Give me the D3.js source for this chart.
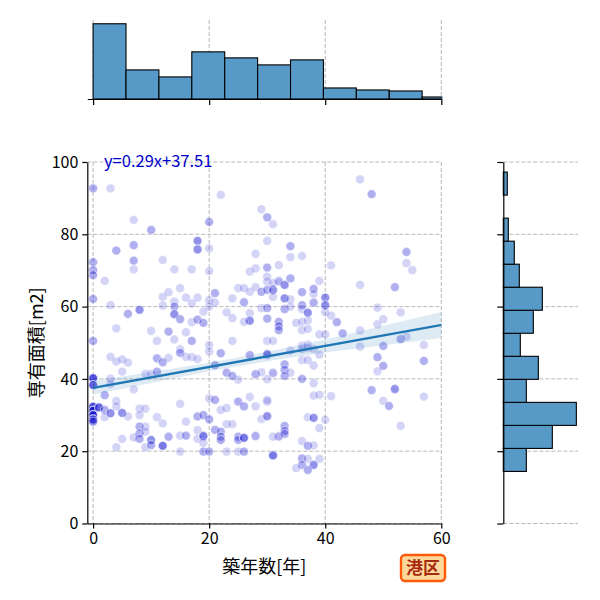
<!DOCTYPE html>
<html>
<head>
<meta charset="utf-8">
<script src="https://d3js.org/d3.v7.min.js"></script>
<style>
  body { margin: 0; background: #fff; }
  svg text { font-family: "Noto Sans CJK JP", "Noto Sans", sans-serif; }
</style>
</head>
<body>
<svg id="chart" width="600" height="600"></svg>
<script>
// scatter points: building age [years], floor area [m2], how many times the point repeats
const ages = [0,3,22,29,30,31,7,10,20,18,18,20,7,30,0,0,0,4,7,7,12,14,17,20,28,27,28,30,32,30,30,0,2,3,6,8,4,0,
  12,13,12,15,14,14,14,15,16,17,18,19,20,20,21,21,23,24,24,25,26,26,27,27,27,26,28,29,29,30,31,31,30,30,32,32,32,32,
  17,18,19,10,13,11,14,17,20,16,24,30,31,15,
  46,48,34,34,36,41,54,54,55,46,52,34,33,31,32,33,33,34,34,36,36,36,38,38,38,37,39,40,40,40,41,42,43,35,36,37,36,37,
  39,40,46,49,50,49,53,53,54,57,50,46,36,37,
  3,4,5,6,5,9,10,11,12,13,11,15,16,17,18,20,22,21,23,24,25,27,28,30,31,29,0,0,0,0,0,0,0,1,2,2,2,3,4,4,5,6,3,3,7,8,9,8,
  8,8,8,9,9,9,10,10,7,5,4,11,12,12,13,15,16,15,16,15,18,19,18,18,19,19,19,20,20,20,21,22,23,21,22,22,22,23,24,23,25,
  25,26,25,25,26,26,27,28,28,29,30,30,31,32,
  30,34,36,37,38,39,36,37,38,33,33,33,34,31,30,36,38,38,39,41,30,30,37,38,40,39,33,33,33,32,31,36,37,38,31,36,36,37,
  38,37,35,39,49,50,49,48,52,50,51,57,57,53];
const areas = [92.7,92.7,90.9,86.9,84.7,82.8,84.0,81.2,83.4,78.2,75.8,76.1,77.0,78.2,72.3,70.1,68.7,75.5,72.7,70.3,72.9,
  70.3,70.3,69.8,74.6,69.7,70.6,70.8,71.5,68.3,66.9,62.1,67.1,60.4,58.0,59.1,54.0,50.5,
  62.7,64.0,60.3,65.1,61.4,60.0,57.9,56.5,62.5,60.9,62.5,58.6,61.8,60.0,63.7,61.1,58.4,62.3,56.8,65.1,65.1,61.2,64.1,
  58.2,56.1,55.8,65.4,64.1,59.6,64.6,64.6,62.7,59.6,56.7,67.2,55.8,54.6,53.5,
  55.7,56.4,55.5,53.3,53.1,50.5,50.9,50.5,49.4,52.9,50.5,50.5,50.5,48.2,
  95.2,91.1,76.7,73.7,74.0,71.4,75.1,72.0,70.1,66.0,65.4,67.8,66.0,66.5,66.9,62.3,59.3,62.0,60.0,64.0,60.4,59.3,64.9,
  63.5,61.1,58.3,67.1,62.5,60.4,58.5,57.5,55.7,52.6,55.5,55.8,56.2,53.5,53.8,
  52.3,52.3,53.4,59.7,56.5,55.1,58.4,51.0,51.7,49.4,49.1,48.9,48.2,48.5,
  46.1,44.8,45.4,44.5,42.0,41.4,41.4,45.7,44.6,45.8,42.0,47.2,46.1,46.0,45.5,47.6,47.1,43.8,41.7,40.8,39.8,46.6,41.3,
  46.6,41.8,41.8,40.2,38.3,32.3,31.2,30.0,28.8,28.2,32.1,35.5,31.4,29.4,30.5,33.9,32.4,30.6,29.6,40.1,38.6,37.1,31.8,
  31.8,30.0,26.8,24.9,23.4,26.8,25.4,21.1,23.1,21.7,23.8,23.4,21.1,29.4,27.7,21.5,24.0,33.1,28.2,24.3,24.3,19.9,29.6,
  30.0,25.8,23.5,24.2,22.3,19.9,19.9,28.8,34.6,34.2,31.4,31.9,25.9,25.4,24.0,23.1,27.5,27.5,19.9,19.9,33.7,32.4,24.0,
  23.1,23.7,19.9,35.0,32.4,24.2,28.9,33.7,29.6,18.7,24.2,
  46.9,47.8,49.2,49.5,48.3,46.7,45.2,45.2,43.7,44.0,42.5,40.8,41.7,41.5,39.9,40.0,38.8,35.4,35.6,35.2,34.1,29.7,29.4,
  29.2,28.7,26.4,27.0,25.6,24.8,24.0,24.0,22.8,21.5,21.6,18.9,18.0,16.2,17.9,16.2,14.8,15.3,17.9,
  46.0,43.6,42.1,36.9,37.2,33.9,32.5,45.0,35.1,27.0];
const repeats = [2,1,1,1,2,1,1,2,2,3,3,1,2,1,2,2,2,2,2,1,1,1,1,1,1,1,1,2,1,1,1,2,1,1,2,3,1,2,
  1,1,1,1,1,2,3,2,1,1,1,1,1,1,2,1,1,1,1,1,1,2,1,1,3,1,1,2,1,2,3,1,2,2,1,2,2,2,
  1,2,2,1,2,1,1,2,1,1,1,1,1,1,
  1,2,2,1,1,1,2,1,1,1,2,2,3,1,1,3,2,1,1,2,2,1,2,1,2,3,1,3,3,1,1,2,2,1,1,1,1,1,
  1,1,1,1,1,1,1,2,1,1,2,1,1,1,
  1,1,1,1,1,1,1,2,2,1,2,2,1,1,1,1,2,2,2,2,1,2,2,2,1,1,6,5,6,6,6,5,3,5,2,2,1,3,1,1,3,1,1,1,1,1,1,1,
  2,2,2,1,1,1,3,2,1,1,1,1,1,4,2,1,1,1,2,1,2,2,1,1,4,1,2,2,2,1,2,1,1,2,2,2,2,1,1,1,1,2,
  2,2,2,4,2,1,1,2,1,1,1,2,1,
  2,1,1,1,1,1,1,1,1,2,2,2,1,1,1,2,1,1,1,1,1,2,1,3,1,1,2,2,2,1,1,1,2,1,2,2,2,1,3,2,1,1,
  2,2,1,2,3,1,2,2,1,1];

// marginal histograms (counts)
const ageBinWidth = 5.67;
const ageCounts = [75, 29, 22, 47, 41, 34, 39, 11, 9, 8, 2];
const areaBinStart = 14.4;
const areaBinWidth = 6.37;
const areaCounts = [23, 49, 73, 23, 35, 17, 30, 39, 16, 11, 5, 0, 4];

// regression line and its confidence band
const fitSlope = 0.29;
const fitIntercept = 37.51;
const fitXRange = [0, 62.4];
const bandX = [0, 10, 20, 30, 40, 50, 60, 62.4];
const bandLow = [35.6, 38.9, 42.1, 44.9, 47.3, 49.3, 51.3, 51.7];
const bandHigh = [39.4, 41.9, 44.5, 47.5, 50.9, 54.7, 58.5, 59.3];

const xTicks = [0, 20, 40, 60];
const yTicks = [0, 20, 40, 60, 80, 100];

const main = {left: 87.3, right: 441.3, top: 162, bottom: 523.5};
const topBox = {top: 20, bottom: 99};
const rightBox = {left: 503.3, right: 580};

const svg = d3.select("#chart");
const x = d3.scaleLinear().domain([-1, 60]).range([main.left, main.right]);
const y = d3.scaleLinear().domain([0, 100]).range([main.bottom, main.top]);
const yTop = d3.scaleLinear().domain([0, d3.max(ageCounts) * 1.05]).range([topBox.bottom, topBox.top]);
const xRight = d3.scaleLinear().domain([0, d3.max(areaCounts) * 1.05]).range([rightBox.left, rightBox.right]);

const gridColor = "#b0b0b0";
const histFill = "#5799c7";

svg.append("defs").append("clipPath").attr("id", "mainClip")
  .append("rect").attr("x", main.left).attr("y", main.top)
  .attr("width", main.right - main.left).attr("height", main.bottom - main.top);

//Grids
function vGrid(y0, y1) {
  svg.append("g").selectAll("line").data(xTicks).enter().append("line")
    .attr("x1", d => x(d)).attr("x2", d => x(d)).attr("y1", y0).attr("y2", y1)
    .attr("stroke", gridColor).attr("stroke-width", 0.9).attr("stroke-dasharray", "4,2");
}
function hGrid(x0, x1) {
  svg.append("g").selectAll("line").data(yTicks).enter().append("line")
    .attr("x1", x0).attr("x2", x1).attr("y1", d => y(d)).attr("y2", d => y(d))
    .attr("stroke", gridColor).attr("stroke-width", 0.9).attr("stroke-dasharray", "4,2");
}
vGrid(main.top, main.bottom);
hGrid(main.left, main.right);
vGrid(topBox.top, topBox.bottom);
hGrid(rightBox.left, rightBox.right - 2);

//Scatter
const pts = [];
ages.forEach(function(a, i) {
  for (let k = 0; k < repeats[i]; k++) pts.push([a, areas[i]]);
});
const plot = svg.append("g").attr("clip-path", "url(#mainClip)");
plot.selectAll("circle").data(pts).enter().append("circle")
  .attr("cx", d => x(d[0])).attr("cy", d => y(d[1])).attr("r", 4.4)
  .attr("fill", "#0000cd").attr("fill-opacity", 0.17)
  .attr("stroke", "#fff").attr("stroke-opacity", 0.3).attr("stroke-width", 1);

//Regression band + line
const bandData = bandX.map((v, i) => ({x: v, lo: bandLow[i], hi: bandHigh[i]}));
plot.append("path").datum(bandData)
  .attr("d", d3.area().x(d => x(d.x)).y0(d => y(d.lo)).y1(d => y(d.hi)))
  .attr("fill", "#1f77b4").attr("fill-opacity", 0.15);
plot.append("line")
  .attr("x1", x(fitXRange[0])).attr("y1", y(fitIntercept + fitSlope * fitXRange[0]))
  .attr("x2", x(fitXRange[1])).attr("y2", y(fitIntercept + fitSlope * fitXRange[1]))
  .attr("stroke", "#1f77b4").attr("stroke-width", 2.4);

svg.append("text").attr("x", 104).attr("y", 166.5)
  .attr("font-size", 16.5).attr("fill", "#0000cd")
  .text("y=" + fitSlope + "x+" + fitIntercept);

//Main axes
const xAxis = svg.append("g").attr("transform", "translate(0," + main.bottom + ")")
  .call(d3.axisBottom(x).tickValues(xTicks).tickSize(5).tickSizeOuter(0).tickPadding(4));
const yAxis = svg.append("g").attr("transform", "translate(" + main.left + ",0)")
  .call(d3.axisLeft(y).tickValues(yTicks).tickSize(5).tickSizeOuter(0).tickPadding(4));
[xAxis, yAxis].forEach(function(g) {
  g.selectAll("path, line").attr("stroke", "#000").attr("stroke-width", 1.2);
  g.selectAll("text").attr("font-size", 16).attr("fill", "#000")
    .style("font-family", "'Noto Sans CJK JP', sans-serif");
});

svg.append("text").attr("x", (main.left + main.right) / 2).attr("y", 573)
  .attr("text-anchor", "middle").attr("font-size", 18).text("築年数[年]");
svg.append("text")
  .attr("transform", "translate(37," + ((main.top + main.bottom) / 2) + ") rotate(-90)")
  .attr("text-anchor", "middle").attr("dy", "0.35em").attr("font-size", 18).text("専有面積[m2]");

//Top histogram
const topBins = ageCounts.map((c, i) => ({x0: i * ageBinWidth, x1: (i + 1) * ageBinWidth, n: c}));
const topG = svg.append("g");
topG.append("clipPath").attr("id", "topClip").append("rect")
  .attr("x", main.left).attr("y", 0).attr("width", main.right - main.left + 1).attr("height", topBox.bottom + 1);
topG.append("g").attr("clip-path", "url(#topClip)")
  .selectAll("rect").data(topBins).enter().append("rect")
  .attr("x", d => x(d.x0)).attr("width", d => x(d.x1) - x(d.x0))
  .attr("y", d => yTop(d.n)).attr("height", d => yTop(0) - yTop(d.n))
  .attr("fill", histFill).attr("stroke", "#000").attr("stroke-width", 1.1);
const topAxis = svg.append("g").attr("transform", "translate(0," + topBox.bottom + ")")
  .call(d3.axisBottom(x).tickValues(xTicks).tickSize(6).tickSizeOuter(0).tickFormat(""));
topAxis.selectAll("path, line").attr("stroke", "#000").attr("stroke-width", 1.2);

//Right histogram
const rightBins = areaCounts.map((c, i) => ({y0: areaBinStart + i * areaBinWidth, y1: areaBinStart + (i + 1) * areaBinWidth, n: c}));
svg.append("g").selectAll("rect").data(rightBins).enter().append("rect")
  .attr("x", xRight(0)).attr("width", d => xRight(d.n) - xRight(0))
  .attr("y", d => y(d.y1)).attr("height", d => y(d.y0) - y(d.y1))
  .attr("fill", histFill).attr("stroke", "#000").attr("stroke-width", 1.1);
const rightAxis = svg.append("g").attr("transform", "translate(" + rightBox.left + ",0)")
  .call(d3.axisLeft(y).tickValues(yTicks).tickSize(6).tickSizeOuter(0).tickFormat(""));
rightAxis.selectAll("path, line").attr("stroke", "#000").attr("stroke-width", 1.2);

//Ward badge
const badge = svg.append("g").attr("transform", "translate(401,555)");
badge.append("rect").attr("width", 44).attr("height", 26).attr("rx", 4)
  .attr("fill", "#ffd99c").attr("stroke", "#ff5a0a").attr("stroke-width", 2.4);
badge.append("text").attr("x", 22).attr("y", 13).attr("dy", "0.36em")
  .attr("text-anchor", "middle").attr("font-size", 17).attr("font-weight", "bold")
  .attr("fill", "#a52a10").text("港区");
</script>
</body>
</html>
